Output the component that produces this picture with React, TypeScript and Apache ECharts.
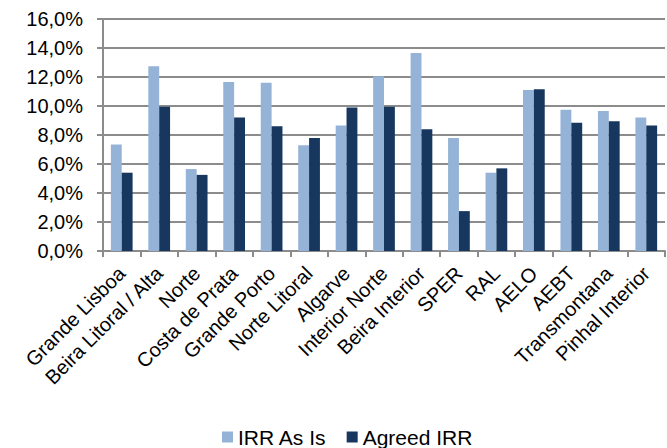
import React, { useEffect, useRef } from "react";
import * as echarts from "echarts";

const categories = [
  "Grande Lisboa",
  "Beira Litoral / Alta",
  "Norte",
  "Costa de Prata",
  "Grande Porto",
  "Norte Litoral",
  "Algarve",
  "Interior Norte",
  "Beira Interior",
  "SPER",
  "RAL",
  "AELO",
  "AEBT",
  "Transmontana",
  "Pinhal Interior",
];

const irrAsIs = [7.35, 12.75, 5.65, 11.65, 11.6, 7.3, 8.65, 12.05, 13.65, 7.8, 5.4, 11.1, 9.75, 9.65, 9.2];
const agreedIrr = [5.4, 9.95, 5.25, 9.2, 8.6, 7.8, 9.9, 9.95, 8.4, 2.75, 5.7, 11.15, 8.85, 8.95, 8.65];

const seriesNames = ["IRR As Is", "Agreed IRR"];
const yTicks = { min: 0, max: 16, interval: 2 };

const FONT = "'Liberation Sans', Arial, sans-serif";
const GRID_COLOR = "#8c8c8c";

export default function App() {
  const ref = useRef<HTMLDivElement>(null);

  useEffect(() => {
    if (!ref.current) return;
    const chart = echarts.init(ref.current, undefined, { renderer: "svg" });
    chart.setOption({
      animation: false,
      backgroundColor: "#ffffff",
      textStyle: { fontFamily: FONT },
      grid: { left: 103, right: 2, top: 19, bottom: 197, containLabel: false },
      legend: {
        data: seriesNames,
        left: 222,
        top: 426,
        padding: 0,
        itemWidth: 11,
        itemHeight: 11,
        itemGap: 20,
        icon: "rect",
        textStyle: { fontSize: 21, lineHeight: 22, color: "#000", fontFamily: FONT },
      },
      xAxis: {
        type: "category",
        data: categories,
        axisLine: { show: true, lineStyle: { color: GRID_COLOR, width: 2 } },
        axisTick: { show: true, length: 6, lineStyle: { color: GRID_COLOR, width: 2 } },
        axisLabel: {
          rotate: 45,
          interval: 0,
          margin: 19,
          fontSize: 20,
          color: "#000",
          fontFamily: FONT,
        },
      },
      yAxis: {
        type: "value",
        min: yTicks.min,
        max: yTicks.max,
        interval: yTicks.interval,
        axisLine: { show: true, lineStyle: { color: GRID_COLOR, width: 2 } },
        axisTick: { show: true, length: 6, lineStyle: { color: GRID_COLOR, width: 2 } },
        splitLine: { show: true, lineStyle: { color: GRID_COLOR, width: 2 } },
        axisLabel: {
          margin: 20,
          fontSize: 20,
          color: "#000",
          fontFamily: FONT,
          formatter: (v: number) => v.toFixed(1).replace(".", ",") + "%",
        },
      },
      series: [
        {
          name: seriesNames[0],
          type: "bar",
          data: irrAsIs,
          barGap: "0%",
          barCategoryGap: "42%",
          itemStyle: { color: "#95B3D7" },
        },
        {
          name: seriesNames[1],
          type: "bar",
          data: agreedIrr,
          barGap: "0%",
          barCategoryGap: "42%",
          itemStyle: { color: "#17375E" },
        },
      ],
    });
    return () => chart.dispose();
  }, []);

  return (
    <div
      ref={ref}
      style={{ position: "absolute", left: 0, top: 0, width: 667, height: 448 }}
    />
  );
}
